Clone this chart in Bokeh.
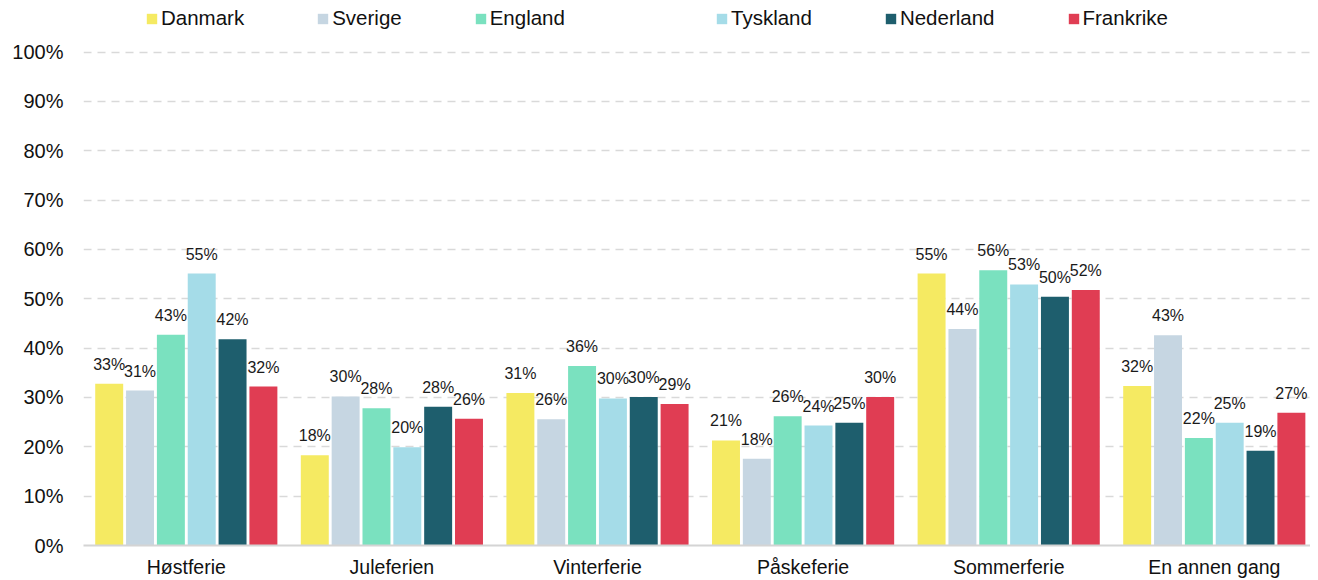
from bokeh.plotting import figure
from bokeh.models import (FixedTicker, Legend, LegendItem, ColumnDataSource,
                          PrintfTickFormatter, Range1d)
from bokeh.embed import file_html
from bokeh.resources import INLINE
from bokeh.core.properties import value

categories = ["Høstferie", "Juleferien", "Vinterferie", "Påskeferie", "Sommerferie", "En annen gang"]
series = ["Danmark", "Sverige", "England", "Tyskland", "Nederland", "Frankrike"]
danmark = [32.8, 18.3, 30.9, 21.3, 55.1, 32.3]
sverige = [31.4, 30.2, 25.6, 17.6, 43.9, 42.6]
england = [42.7, 27.8, 36.4, 26.2, 55.8, 21.8]
tyskland = [55.1, 19.9, 29.8, 24.3, 52.9, 24.9]
nederland = [41.8, 28.1, 30.1, 24.9, 50.4, 19.2]
frankrike = [32.2, 25.7, 28.7, 30.1, 51.8, 26.9]
colors = ["#F5EA62", "#C6D6E2", "#7AE1BF", "#A5DCE8", "#1E5E6D", "#E03D53"]
y_ticks = list(range(0, 101, 10))

values = [danmark, sverige, england, tyskland, nederland, frankrike]

FONT = "Liberation Sans"
PITCH = 0.15
BAR_W = 0.136

p = figure(width=1310, height=580, output_backend="svg", toolbar_location=None,
           x_range=Range1d(-0.5, 5.468), y_range=Range1d(0, 110.45),
           min_border_left=83, min_border_right=0, min_border_top=0, min_border_bottom=27)
p.outline_line_color = None
p.background_fill_color = "white"
p.border_fill_color = "white"

renderers = []
for i, (name, vals, col) in enumerate(zip(series, values, colors)):
    off = (i - 2.5) * PITCH
    xs = [k + off for k in range(len(categories))]
    src = ColumnDataSource(dict(x=xs, top=vals, lab=[f"{round(v)}%" for v in vals]))
    r = p.vbar(x="x", top="top", width=BAR_W, bottom=0, source=src,
               fill_color=col, line_color=None)
    renderers.append(r)
    p.text(x="x", y="top", text="lab", source=src, text_align="center",
           text_baseline="bottom", y_offset=-11, text_font=value(FONT),
           text_font_size="16px", text_color="#1a1a1a")

# axes
p.xaxis.ticker = FixedTicker(ticks=list(range(len(categories))))
p.xaxis.major_label_overrides = {i: c for i, c in enumerate(categories)}
p.xaxis.major_tick_line_color = None
p.xaxis.minor_tick_line_color = None
p.xaxis.axis_line_color = "#d4d4d4"
p.xaxis.axis_line_width = 2
p.xaxis.major_label_standoff = 4
p.xaxis.major_label_text_font = FONT
p.xaxis.major_label_text_font_size = "19.5px"
p.xaxis.major_label_text_color = "#111111"

p.yaxis.ticker = FixedTicker(ticks=y_ticks)
p.yaxis.formatter = PrintfTickFormatter(format="%d%%")
p.yaxis.axis_line_color = None
p.yaxis.major_tick_line_color = None
p.yaxis.minor_tick_line_color = None
p.yaxis.major_tick_out = 0
p.yaxis.major_tick_in = 0
p.yaxis.major_label_standoff = 20
p.yaxis.major_label_text_font = FONT
p.yaxis.major_label_text_font_size = "20px"
p.yaxis.major_label_text_color = "#111111"

p.xgrid.grid_line_color = None
p.ygrid.ticker = FixedTicker(ticks=y_ticks[1:])
p.ygrid.grid_line_color = "#d9d9d9"
p.ygrid.grid_line_width = 1.5
p.ygrid.grid_line_dash = "8 6"

def make_legend(items, loc):
    leg = Legend(items=items, location=loc, orientation="horizontal",
                 label_text_font=FONT, label_text_font_size="20.5px",
                 label_text_color="#111111", label_height=20,
                 glyph_height=13, glyph_width=13, label_standoff=3,
                 spacing=72, padding=0, margin=0,
                 border_line_alpha=0, background_fill_alpha=0)
    return leg

items = [LegendItem(label=n, renderers=[r]) for n, r in zip(series, renderers)]
p.add_layout(make_legend(items[:3], (62, 515)))
p.add_layout(make_legend(items[3:], (632, 515)))

open("out.html", "w").write(file_html(p, INLINE))
